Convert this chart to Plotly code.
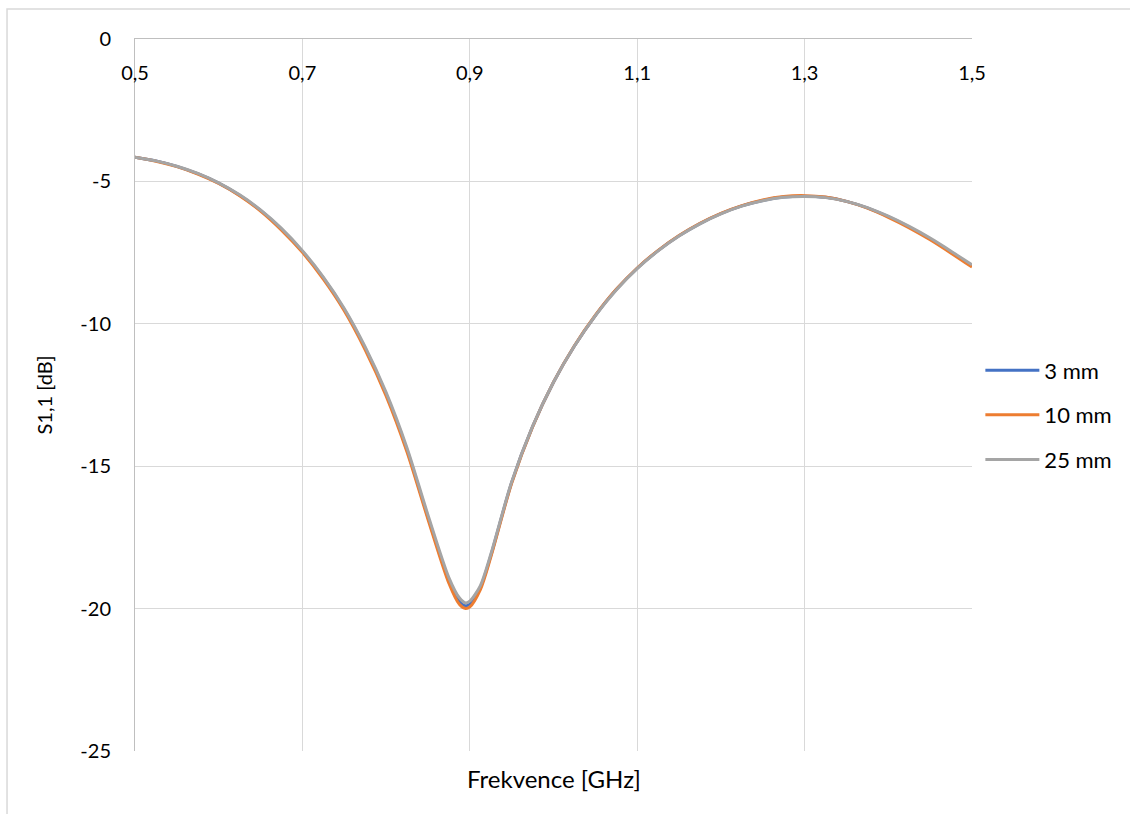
import plotly.graph_objects as go

freq = [0.500, 0.525, 0.550, 0.575, 0.600, 0.625, 0.650, 0.675, 0.700, 0.725,
        0.750, 0.775, 0.800, 0.825, 0.850, 0.875, 0.8875, 0.895, 0.900, 0.9125,
        0.925, 0.950, 0.975, 1.000, 1.025, 1.050, 1.075, 1.100, 1.125, 1.150,
        1.175, 1.200, 1.225, 1.250, 1.275, 1.300, 1.325, 1.350, 1.375, 1.400,
        1.425, 1.450, 1.475, 1.500]

s11_3mm = [-4.15, -4.28, -4.47, -4.73, -5.06, -5.49, -6.02, -6.68, -7.46, -8.39,
           -9.50, -10.86, -12.47, -14.43, -16.79, -19.01, -19.74, -19.90, -19.84, -19.27,
           -18.15, -15.57, -13.61, -12.05, -10.78, -9.71, -8.80, -8.05, -7.43, -6.91,
           -6.48, -6.13, -5.86, -5.67, -5.55, -5.52, -5.56, -5.70, -5.93, -6.24,
           -6.60, -7.02, -7.48, -7.97]

s11_10mm = [-4.15, -4.29, -4.48, -4.74, -5.07, -5.50, -6.04, -6.71, -7.49, -8.43,
            -9.54, -10.91, -12.53, -14.50, -16.86, -19.11, -19.85, -20.00, -19.94, -19.34,
            -18.20, -15.60, -13.62, -12.05, -10.77, -9.70, -8.79, -8.04, -7.42, -6.90,
            -6.47, -6.12, -5.85, -5.65, -5.53, -5.50, -5.55, -5.70, -5.94, -6.26,
            -6.63, -7.05, -7.52, -8.01]

s11_25mm = [-4.15, -4.28, -4.47, -4.72, -5.05, -5.47, -6.00, -6.65, -7.43, -8.36,
            -9.46, -10.81, -12.41, -14.36, -16.71, -18.91, -19.62, -19.80, -19.74, -19.20,
            -18.10, -15.55, -13.60, -12.05, -10.78, -9.71, -8.81, -8.06, -7.44, -6.92,
            -6.49, -6.14, -5.87, -5.68, -5.56, -5.53, -5.57, -5.70, -5.92, -6.22,
            -6.58, -6.99, -7.45, -7.93]

series_names = ["3 mm", "10 mm", "25 mm"]
series_colors = ["#4472C4", "#ED7D31", "#A5A5A5"]

x_tickvals = [0.5, 0.7, 0.9, 1.1, 1.3, 1.5]
x_ticktext = ["0,5", "0,7", "0,9", "1,1", "1,3", "1,5"]
y_tickvals = [0, -5, -10, -15, -20, -25]
y_ticktext = ["0", "-5", "-10", "-15", "-20", "-25"]

FONT = "Lato"
FS = 20

fig = go.Figure()
for i, (name, ys) in enumerate(zip(series_names, [s11_3mm, s11_10mm, s11_25mm])):
    fig.add_trace(go.Scatter(
        x=freq, y=ys, mode="lines", name=name,
        line=dict(color=series_colors[i], width=3, shape="spline", smoothing=0.8),
        legendgroup=name,
    ))

fig.update_layout(
    width=1130, height=814,
    margin=dict(l=135, r=158, t=39, b=63),
    paper_bgcolor="white", plot_bgcolor="white",
    font=dict(family=FONT, size=FS, color="#000000"),
    showlegend=True,
    legend=dict(
        x=1.01, y=0.472, xanchor="left", yanchor="middle",
        font=dict(family=FONT, size=22, color="#000000"),
        traceorder="grouped", tracegroupgap=13, itemwidth=54,
        bgcolor="rgba(0,0,0,0)",
    ),
    xaxis=dict(
        range=[0.5, 1.5], side="top",
        tickmode="array", tickvals=x_tickvals,
        showticklabels=False, ticks="",
        showgrid=True, gridcolor="#D9D9D9", gridwidth=1,
        showline=True, linecolor="#BFBFBF", linewidth=1,
        zeroline=False,
    ),
    xaxis2=dict(
        range=[0.5, 1.5], overlaying="x", matches="x",
        anchor="free", position=1.0, side="bottom",
        tickmode="array", tickvals=x_tickvals, ticktext=x_ticktext,
        ticks="", ticklabelstandoff=20,
        showgrid=False, showline=False, zeroline=False,
        tickfont=dict(family=FONT, size=FS, color="#000000"),
    ),
    yaxis=dict(
        range=[-25, 0],
        tickmode="array", tickvals=y_tickvals, ticktext=y_ticktext,
        ticks="", ticklabelstandoff=19,
        showgrid=True, gridcolor="#D9D9D9", gridwidth=1,
        showline=True, linecolor="#BFBFBF", linewidth=1,
        zeroline=False,
        title=dict(text="S1,1 [dB]", standoff=22,
                   font=dict(family=FONT, size=FS, color="#000000")),
        tickfont=dict(family=FONT, size=FS, color="#000000"),
    ),
    annotations=[dict(
        text="Frekvence [GHz]", xref="paper", yref="paper",
        x=0.5, y=-0.016, xanchor="center", yanchor="top", showarrow=False,
        font=dict(family=FONT, size=24, color="#000000"),
    )],
    shapes=[dict(
        type="rect", xref="paper", yref="paper",
        x0=-0.1529, y0=-0.3, x1=1.4, y1=1.0421,
        line=dict(color="#D9D9D9", width=1.5), fillcolor="rgba(0,0,0,0)",
        layer="below",
    )],
)

# invisible trace to activate the label axis
fig.add_trace(go.Scatter(x=[0.5, 1.5], y=[None, None], xaxis="x2", yaxis="y",
                         mode="lines", showlegend=False, hoverinfo="skip"))

fig.write_html("out.html")
